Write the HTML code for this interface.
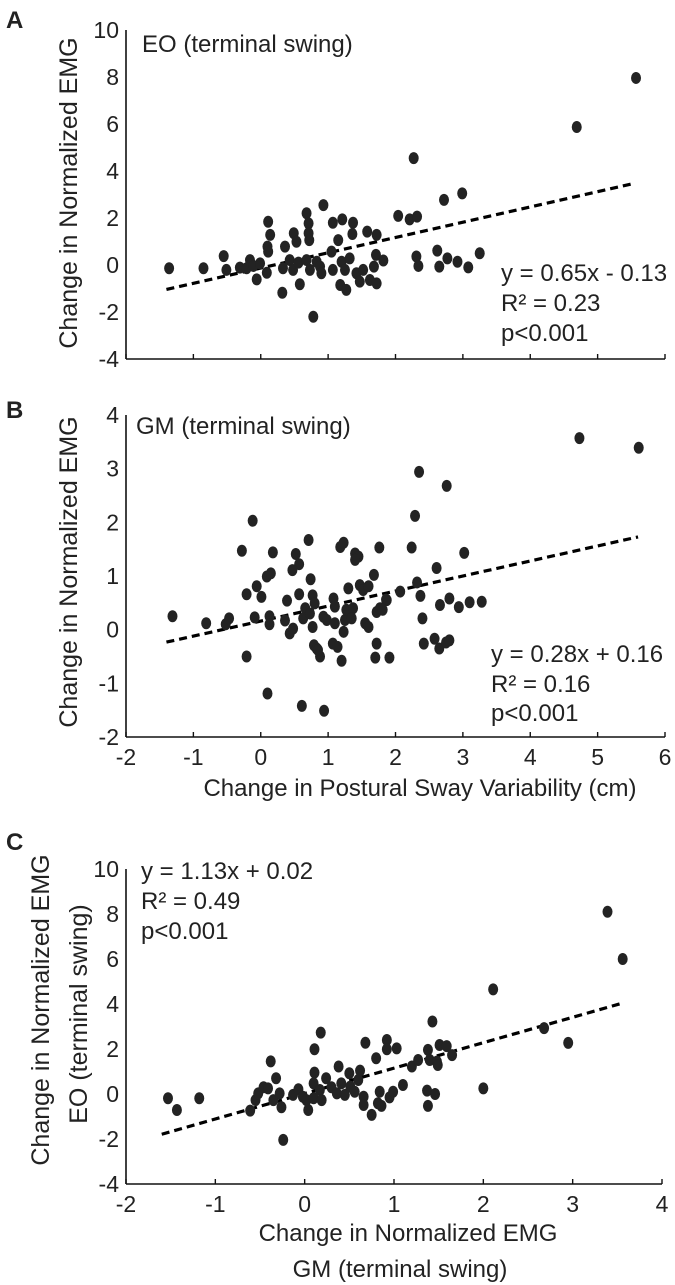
<!DOCTYPE html>
<html><head><meta charset="utf-8">
<style>
html,body{margin:0;padding:0;background:#fff;}
svg{display:block;font-family:"Liberation Sans",Arial,sans-serif;}
</style></head>
<body>
<svg id="fig" width="675" height="1285" viewBox="0 0 675 1285" xmlns="http://www.w3.org/2000/svg">
<text x="6" y="28" font-size="24" font-weight="bold" fill="#222">A</text>
<text x="6" y="418" font-size="24" font-weight="bold" fill="#222">B</text>
<text x="6" y="850" font-size="24" font-weight="bold" fill="#222">C</text>
<g id="pa"></g>
<g id="pb"></g>
<g id="pc"></g>
</svg>
<script>
// Panel A data: x = change in postural sway variability, y = EO EMG change
const aX = [-1.36,-0.85,-0.55,-0.51,-0.31,-0.21,-0.16,-0.11,-0.01,-0.06,0.09,0.11,0.14,0.10,0.11,0.32,0.36,0.33,0.43,0.49,0.53,0.48,0.58,0.56,0.68,0.71,0.71,0.72,0.68,0.73,0.78,0.83,0.88,0.93,0.90,1.05,1.07,1.15,1.21,1.07,1.20,1.25,1.18,1.27,1.32,1.37,1.36,1.42,1.47,1.52,1.58,1.62,1.72,1.68,1.72,1.71,1.82,2.04,2.21,2.32,2.31,2.34,2.62,2.65,2.77,2.92,3.08,3.25,2.72,2.99,2.27,4.69,5.57];
const aY = [-0.14,-0.14,0.38,-0.21,-0.11,-0.14,0.21,-0.04,0.07,-0.61,-0.33,1.84,1.28,0.78,0.57,-1.18,0.78,-0.14,0.21,1.35,0.99,-0.21,-0.82,0.10,2.20,1.77,1.35,1.06,0.21,-0.21,-2.20,0.14,-0.07,2.55,-0.35,0.57,1.80,1.06,1.94,-0.21,0.14,-0.21,-0.85,-1.06,0.28,1.80,1.32,-0.35,-0.71,-0.21,1.42,-0.64,1.28,-0.07,-0.78,0.43,0.19,2.09,1.94,2.06,0.36,-0.04,0.61,-0.07,0.28,0.14,-0.10,0.50,2.77,3.05,4.55,5.87,7.96];
const aSlope = 0.65, aIntercept = -0.13;
const aYTicks = [10,8,6,4,2,0,-2,-4];
const abXTicks = [-2,-1,0,1,2,3,4,5,6];

// Panel B data: x = change in postural sway variability, y = GM EMG change
const bX = [-1.31,-0.81,-0.52,-0.47,-0.21,-0.21,-0.28,-0.12,-0.09,-0.06,0.01,0.09,0.15,0.13,0.13,0.18,0.36,0.39,0.43,0.48,0.52,0.57,0.47,0.57,0.66,0.63,0.71,0.74,0.77,0.80,0.77,0.73,0.79,0.83,0.88,0.85,0.93,0.98,1.07,1.14,1.08,1.10,1.10,1.20,1.18,1.23,1.23,1.25,1.27,1.30,1.37,1.35,1.40,1.45,1.40,1.47,1.52,1.60,1.55,1.60,1.68,1.76,1.72,1.70,1.72,1.77,1.87,1.91,2.35,2.76,2.29,2.24,3.02,2.61,2.32,2.07,2.37,1.86,1.81,2.40,2.66,2.80,2.94,3.10,3.28,2.42,2.58,2.65,2.75,2.80,0.10,0.61,0.94,4.73,5.61];
const bY = [0.25,0.12,0.10,0.21,-0.50,0.66,1.47,2.03,0.23,0.81,0.61,0.99,1.05,0.25,0.10,1.44,0.17,0.54,-0.07,0.02,1.41,1.22,1.11,0.66,0.40,0.21,1.67,0.94,0.64,0.49,0.05,0.30,-0.29,-0.35,-0.50,-0.38,0.24,0.18,-0.26,-0.32,0.58,0.43,0.12,-0.58,1.54,1.62,-0.04,0.18,0.37,0.77,0.40,0.21,1.42,1.36,1.30,0.83,0.74,0.81,0.12,0.05,1.02,1.53,-0.26,-0.52,0.33,0.40,0.55,-0.52,2.94,2.68,2.12,1.53,1.43,1.15,0.88,0.71,0.63,0.56,0.37,0.21,0.46,0.58,0.42,0.51,0.52,-0.26,-0.17,-0.35,-0.24,-0.20,-1.19,-1.42,-1.51,3.57,3.39];
const bSlope = 0.28, bIntercept = 0.16;
const bYTicks = [4,3,2,1,0,-1,-2];

// Panel C data: x = GM EMG change, y = EO EMG change
const cX = [-1.53,-1.43,-1.18,-0.61,-0.55,-0.52,-0.46,-0.41,-0.38,-0.32,-0.35,-0.28,-0.26,-0.24,-0.13,-0.07,-0.02,0.04,0.02,0.10,0.11,0.11,0.18,0.10,0.17,0.19,0.24,0.30,0.36,0.38,0.41,0.45,0.50,0.51,0.56,0.62,0.60,0.66,0.66,0.68,0.75,0.80,0.84,0.82,0.86,0.92,0.92,1.03,0.95,0.99,1.10,1.20,1.27,1.38,1.40,1.48,1.49,1.43,1.51,1.59,1.65,1.37,1.46,1.38,2.00,2.11,2.68,2.95,3.39,3.56];
const cY = [-0.19,-0.71,-0.19,-0.74,-0.27,0.03,0.30,0.25,1.45,0.70,-0.27,0.03,-0.59,-2.04,-0.04,0.21,-0.12,-0.71,-0.27,-0.19,0.95,1.99,2.73,0.47,0.18,-0.27,0.70,0.30,0.03,1.22,0.47,-0.04,0.92,0.33,0.10,1.04,0.62,-0.12,-0.49,2.28,-0.93,1.59,0.10,-0.41,-0.53,2.40,1.99,2.03,-0.15,0.10,0.40,1.22,1.51,1.96,1.51,1.44,1.29,3.22,2.18,2.13,1.73,0.15,0.00,-0.53,0.25,4.65,2.93,2.27,8.10,6.00];
const cSlope = 1.13, cIntercept = 0.02;
const cYTicks = [10,8,6,4,2,0,-2,-4];
const cXTicks = [-2,-1,0,1,2,3,4];

const NS = "http://www.w3.org/2000/svg";
function mk(tag, attrs, parent){const e=document.createElementNS(NS,tag);for(const k in attrs)e.setAttribute(k,attrs[k]);parent.appendChild(e);return e;}
function lin(d0,d1,r0,r1){return v=>r0+(v-d0)*(r1-r0)/(d1-d0);}

function panel(g, cfg){
  const sx=lin(cfg.xMin,cfg.xMax,126,cfg.xRight), sy=lin(cfg.yMin,cfg.yMax,cfg.yBottom,cfg.yTop);
  const yAx=mk('line',{x1:126,y1:cfg.yTop,x2:126,y2:cfg.yBottom,stroke:'#111','stroke-width':1.6},g);
  
  
  const xAx=mk('line',{x1:126,y1:cfg.yBottom,x2:cfg.xRight,y2:cfg.yBottom,stroke:'#111','stroke-width':1.6},g);
  
  
  cfg.yTicks.forEach(v=>{
    const t=mk('text',{x:119,y:sy(v)+8,'font-size':23,'text-anchor':'end',fill:'#222'},g);t.textContent=String(v);
    
    
  });
  cfg.xTicks.forEach(v=>{
    const tk=mk('line',{x1:sx(v),y1:cfg.yBottom,x2:sx(v),y2:cfg.yBottom-5,stroke:'#111','stroke-width':1.4},g);
    
    
    if(cfg.xLabels){
      const t=mk('text',{x:sx(v),y:cfg.yBottom+28,'font-size':23,'text-anchor':'middle',fill:'#222'},g);t.textContent=String(v);
      
      
    }
  });
  const x0=cfg.fitFrom,x1=cfg.fitTo;
  const ln=mk('line',{x1:sx(x0),y1:sy(cfg.slope*x0+cfg.intercept),x2:sx(x1),y2:sy(cfg.slope*x1+cfg.intercept),stroke:'#000','stroke-width':3.2,'stroke-dasharray':'8 5'},g);
  
  
  cfg.xs.forEach((v,i)=>{
    const c=mk('ellipse',{cx:sx(v),cy:sy(cfg.ys[i]),rx:5,ry:6,fill:'#232323'},g);
    
    
  });
  cfg.texts.forEach(tx=>{
    const t=mk('text',{x:tx[0],y:tx[1],'font-size':tx[3]||23,fill:'#222','text-anchor':tx[4]||'start'},g);t.textContent=tx[2];
    
    
  });
}

panel(document.getElementById('pa'),{xMin:-2,xMax:6,xRight:665,yMin:-4,yMax:10,yBottom:359,yTop:30,
  yTicks:aYTicks,xTicks:abXTicks,xLabels:false,slope:aSlope,intercept:aIntercept,fitFrom:-1.4,fitTo:5.55,xs:aX,ys:aY,
  texts:[[142,52,'EO (terminal swing)',24,'start','muscle-label'],[501,281,'y = 0.65x - 0.13',24,'start','regression-equation'],[501,311,'R² = 0.23',24,'start','r-squared'],[501,341,'p<0.001',24,'start','p-value']]});
panel(document.getElementById('pb'),{xMin:-2,xMax:6,xRight:665,yMin:-2,yMax:4,yBottom:737,yTop:415,
  yTicks:bYTicks,xTicks:abXTicks,xLabels:true,slope:bSlope,intercept:bIntercept,fitFrom:-1.4,fitTo:5.6,xs:bX,ys:bY,
  texts:[[136,434,'GM (terminal swing)',24,'start','muscle-label'],[491,662,'y = 0.28x + 0.16',24,'start','regression-equation'],[491,692,'R² = 0.16',24,'start','r-squared'],[491,721,'p<0.001',24,'start','p-value'],
  [420,796,'Change in Postural Sway Variability (cm)',24,'middle','x-axis-title']]});
panel(document.getElementById('pc'),{xMin:-2,xMax:4,xRight:662,yMin:-4,yMax:10,yBottom:1184,yTop:869,
  yTicks:cYTicks,xTicks:cXTicks,xLabels:true,slope:cSlope,intercept:cIntercept,fitFrom:-1.6,fitTo:3.55,xs:cX,ys:cY,
  texts:[[141,879,'y = 1.13x + 0.02',24,'start','regression-equation'],[141,909,'R² = 0.49',24,'start','r-squared'],[141,939,'p<0.001',24,'start','p-value'],
  [408,1241,'Change in Normalized EMG',24,'middle','x-axis-title'],[400,1277,'GM (terminal swing)',24,'middle','x-axis-subtitle']]});

// y-axis titles (rotated)
const svg=document.getElementById('fig');
[[77,193,'Change in Normalized EMG','y-axis-title-a'],[77,572,'Change in Normalized EMG','y-axis-title-b'],[49,1010,'Change in Normalized EMG','y-axis-title-c'],[87,1014,'EO (terminal swing)','y-axis-subtitle-c']].forEach(a=>{
  const t=mk('text',{x:a[0],y:a[1],'font-size':25,'text-anchor':'middle',fill:'#222',transform:'rotate(-90 '+a[0]+' '+a[1]+')'},svg);
  t.textContent=a[2];
  
  
});
</script>
</body></html>
